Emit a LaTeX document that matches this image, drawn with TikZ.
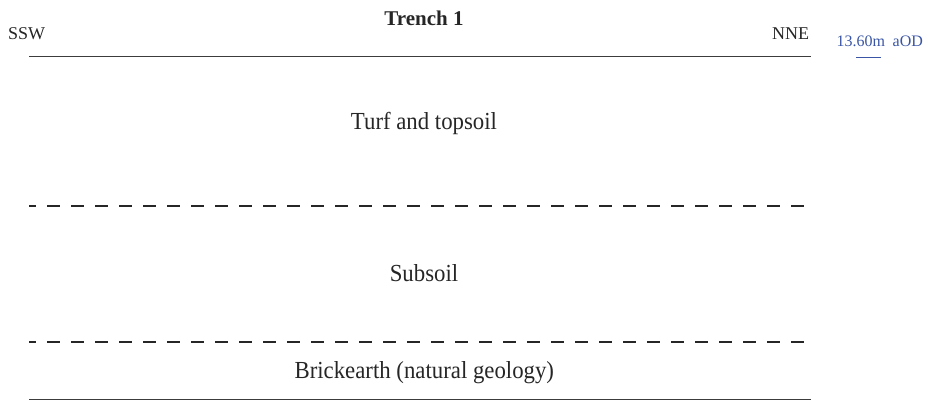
\documentclass[tikz,border=0pt]{standalone}
\usepackage{fontspec}
\setmainfont{Liberation Serif}
\newfontfamily\narrowserif[FakeStretch=0.93]{Liberation Serif}
\definecolor{inkgray}{HTML}{262626}
\definecolor{rulegray}{HTML}{3C3C3C}
\definecolor{levelblue}{HTML}{3A55A5}
\tikzset{
  layerlabel/.style={anchor=base, inner sep=0pt, text=inkgray,
    font=\narrowserif\fontsize{24.5}{28}\selectfont},
  sidelabel/.style={inner sep=0pt, text=inkgray,
    font=\fontsize{18}{22}\selectfont},
  titlelabel/.style={anchor=base, inner sep=0pt, text=inkgray,
    font=\bfseries\fontsize{21}{25}\selectfont},
  levellabel/.style={anchor=base west, inner sep=0pt, text=levelblue,
    font=\fontsize{16}{19}\selectfont},
  boundary/.style={draw=rulegray, line width=1.4pt},
  interface/.style={draw=inkgray, line width=1.6pt,
    dash pattern=on 13pt off 11pt, dash phase=6pt},
}
\begin{document}
\begin{tikzpicture}[x=1pt,y=-1pt]
  \useasboundingbox (0,0) rectangle (929,417);

  % section edges
  \coordinate (topL) at (29.3,56.7);
  \coordinate (topR) at (811,56.7);
  \coordinate (d1L) at (29.3,206);
  \coordinate (d1R) at (811,206);
  \coordinate (d2L) at (29.3,342);
  \coordinate (d2R) at (811,342);
  \coordinate (botL) at (29.3,399.5);
  \coordinate (botR) at (811,399.5);

  \draw[boundary] (topL) -- (topR);
  \draw[interface] (d1L) -- (d1R);
  \draw[interface] (d2L) -- (d2R);
  \draw[boundary] (botL) -- (botR);

  % headings
  \node[titlelabel] (title) at (424,25.7) {Trench 1};
  \node[sidelabel, anchor=base west] (ssw) at (8,39.3) {SSW};
  \node[sidelabel, anchor=base east] (nne) at (809.3,39.3) {NNE};

  % datum level
  \node[levellabel] (level) at (836.5,46.7) {13.60m\hspace{7.5pt}aOD};
  \coordinate (tickL) at (856,57.3);
  \coordinate (tickR) at (881,57.3);
  \draw[levelblue, line width=1.3pt] (tickL) -- (tickR);

  % deposits
  \node[layerlabel] (turf) at (424,129.5) {Turf and topsoil};
  \node[layerlabel] (subsoil) at (424,281.5) {Subsoil};
  \node[layerlabel] (brick) at (424.3,378) {Brickearth (natural geology)};
\end{tikzpicture}
\end{document}
